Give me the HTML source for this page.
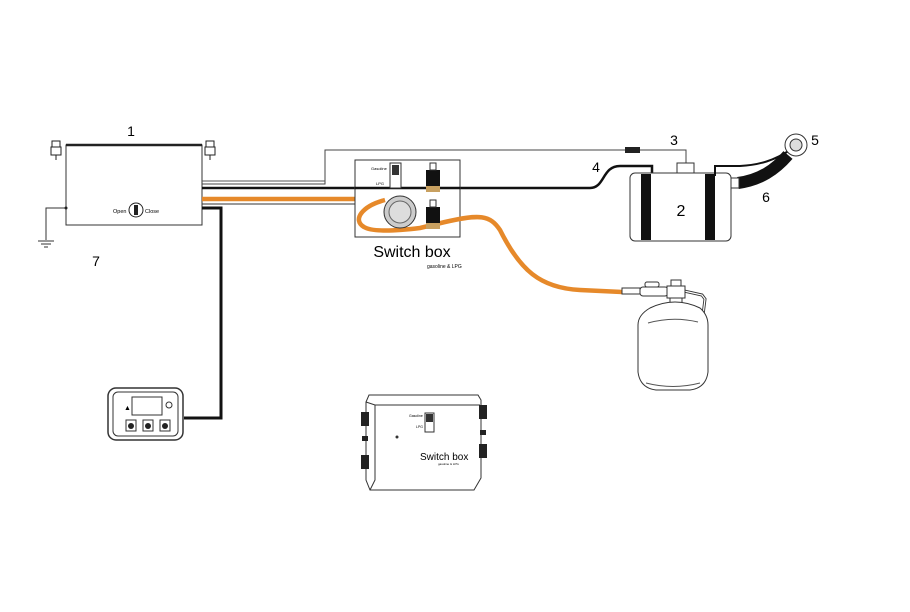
<!DOCTYPE html>
<html><head><meta charset="utf-8"><style>
html,body{margin:0;padding:0;background:#fff;}
svg{display:block;font-family:"Liberation Sans",sans-serif;}
</style></head><body>
<svg width="910" height="612" viewBox="0 0 910 612" xmlns="http://www.w3.org/2000/svg">
<rect width="910" height="612" fill="#fff"/>
<!-- heater -->
<text x="131" y="136" font-size="14" text-anchor="middle">1</text>
<rect x="66" y="145" width="136" height="80" fill="#fff" stroke="#333" stroke-width="1"/>
<line x1="66" y1="145" x2="202" y2="145" stroke="#222" stroke-width="2.5"/>
<g fill="#fff" stroke="#222" stroke-width="1">
<rect x="52" y="141" width="8" height="6"/><rect x="51" y="147" width="10" height="8"/><line x1="56" y1="155" x2="56" y2="160"/>
<rect x="206" y="141" width="8" height="6"/><rect x="205" y="147" width="10" height="8"/><line x1="210" y1="155" x2="210" y2="160"/>
</g>
<circle cx="136" cy="210" r="7" fill="#fff" stroke="#222"/>
<rect x="134" y="205" width="4" height="10" fill="#222"/>
<text x="113" y="213" font-size="5.5">Open</text><text x="145" y="213" font-size="5.5">Close</text>
<polyline points="66,208 46,208 46,240" fill="none" stroke="#333"/>
<circle cx="66" cy="208" r="1.5" fill="#222"/>
<line x1="38" y1="241" x2="54" y2="241" stroke="#333"/><line x1="41" y1="244" x2="51" y2="244" stroke="#333"/><line x1="44" y1="247" x2="48" y2="247" stroke="#333"/>
<text x="96" y="266" font-size="14" text-anchor="middle">7</text>
<!-- wires -->
<polyline points="202,184 325,184 325,150 625,150" fill="none" stroke="#444" stroke-width="1"/>
<line x1="202" y1="181" x2="325" y2="181" stroke="#555" stroke-width="1"/>
<rect x="625" y="147" width="15" height="6" fill="#222"/>
<polyline points="640,150 686,150 686,163" fill="none" stroke="#444"/>
<path d="M202 188 L590 188 C605 188 602 166 620 166 L652 166 L652 176" fill="none" stroke="#111" stroke-width="2.5"/>
<path d="M202 199 L385 199" stroke="#e6892a" stroke-width="4.5"/>
<line x1="202" y1="204" x2="355" y2="204" stroke="#333"/>
<polyline points="202,208 221,208 221,418 184,418" fill="none" stroke="#111" stroke-width="3"/>
<!-- switch box -->
<rect x="355" y="160" width="105" height="77" fill="#fff" stroke="#333"/>
<line x1="355" y1="188" x2="460" y2="188" stroke="#111" stroke-width="2.5"/>
<text x="371" y="170" font-size="4">Gasoline</text><text x="376" y="185" font-size="4">LPG</text>
<rect x="390" y="163" width="11" height="25" fill="#fff" stroke="#333"/>
<rect x="392" y="165" width="7" height="10" fill="#333"/>
<path d="M385 200 C362 206 352 220 364 227 C372 232 395 231 420 228 L445 222 C480 214 490 215 500 230 C520 270 540 288 580 290 L622 292" fill="none" stroke="#e6892a" stroke-width="4.5"/>
<circle cx="400" cy="212" r="16" fill="#ccc" stroke="#333"/>
<circle cx="400" cy="212" r="11" fill="#ddd" stroke="#666"/>
<rect x="426" y="170" width="14" height="16" fill="#111"/><rect x="426" y="186" width="14" height="6" fill="#c8a060"/><rect x="430" y="163" width="6" height="7" fill="#fff" stroke="#333"/>
<rect x="426" y="207" width="14" height="16" fill="#111"/><rect x="426" y="223" width="14" height="6" fill="#c8a060"/><rect x="430" y="200" width="6" height="7" fill="#fff" stroke="#333"/>
<text x="412" y="257" font-size="16" text-anchor="middle">Switch box</text>
<text x="427" y="268" font-size="5">gasoline &amp; LPG</text>
<!-- tank -->
<text x="674" y="145" font-size="14" text-anchor="middle">3</text>
<text x="596" y="172" font-size="14" text-anchor="middle">4</text>
<text x="815" y="145" font-size="14" text-anchor="middle">5</text>
<text x="766" y="202" font-size="14" text-anchor="middle">6</text>
<rect x="677" y="163" width="17" height="10" fill="#fff" stroke="#333"/>
<rect x="630" y="173" width="101" height="68" rx="5" fill="#fff" stroke="#333"/>
<rect x="641" y="174" width="10" height="66" fill="#111"/>
<rect x="705" y="174" width="10" height="66" fill="#111"/>
<text x="681" y="216" font-size="16" text-anchor="middle">2</text>
<path d="M715 176 L715 166 L740 166 C760 165 775 160 790 150" fill="none" stroke="#111" stroke-width="2"/>
<path d="M738 183 C760 180 775 170 788 155" fill="none" stroke="#111" stroke-width="12"/>
<rect x="731" y="178" width="8" height="10" fill="#fff" stroke="#333"/>
<circle cx="796" cy="145" r="11" fill="#fff" stroke="#333"/>
<circle cx="796" cy="145" r="6" fill="#ddd" stroke="#333"/>
<!-- cylinder -->
<path d="M684 291 L702 295 L705 299 L703 315" fill="none" stroke="#333" stroke-width="3"/>
<path d="M684 291 L702 295 L705 299 L703 315" fill="none" stroke="#fff" stroke-width="1.2"/>
<rect x="622" y="288" width="18" height="6" fill="#fff" stroke="#333"/>
<rect x="640" y="287" width="28" height="9" rx="3" fill="#fff" stroke="#333"/>
<rect x="645" y="282" width="14" height="5" rx="2" fill="#fff" stroke="#333"/>
<rect x="667" y="286" width="18" height="12" fill="#fff" stroke="#333"/>
<rect x="671" y="280" width="10" height="6" fill="#fff" stroke="#333"/>
<rect x="670" y="298" width="12" height="7" fill="#fff" stroke="#333"/>
<path d="M650 308 Q675 296 700 308 Q708 315 708 325 L708 372 Q706 388 690 390 L656 390 Q640 388 638 372 L638 325 Q638 315 650 308 Z" fill="#fff" stroke="#333"/>
<path d="M648 323 Q673 316 698 322" fill="none" stroke="#555"/>
<path d="M646 383 Q673 390 700 383" fill="none" stroke="#555"/>
<!-- controller -->
<rect x="108" y="388" width="75" height="52" rx="8" fill="#fff" stroke="#333" stroke-width="1.5"/>
<rect x="113" y="392" width="65" height="44" rx="5" fill="none" stroke="#333"/>
<rect x="132" y="397" width="30" height="18" fill="#fff" stroke="#333"/>
<text x="124" y="410" font-size="7">▲</text><circle cx="169" cy="405" r="3" fill="none" stroke="#333"/>
<rect x="126" y="420" width="10" height="11" fill="#fff" stroke="#333"/><rect x="143" y="420" width="10" height="11" fill="#fff" stroke="#333"/><rect x="160" y="420" width="10" height="11" fill="#fff" stroke="#333"/>
<circle cx="131" cy="426" r="3" fill="#222"/><circle cx="148" cy="426" r="3" fill="#222"/><circle cx="165" cy="426" r="3" fill="#222"/>
<!-- switch box 3D -->
<path d="M366 402 L369 395 L478 395 L481 400 L481 478 L474 490 L370 490 L366 480 Z" fill="#fff" stroke="#333"/>
<path d="M366 402 L375 405 L480 405 M375 405 L375 480 L370 490" fill="none" stroke="#333"/>
<g fill="#222"><rect x="361" y="412" width="8" height="14"/><rect x="362" y="436" width="6" height="5"/><rect x="361" y="455" width="8" height="14"/>
<rect x="479" y="405" width="8" height="14"/><rect x="480" y="430" width="6" height="5"/><rect x="479" y="444" width="8" height="14"/></g>
<rect x="425" y="413" width="9" height="19" fill="#fff" stroke="#333"/><rect x="426" y="414" width="7" height="8" fill="#333"/>
<text x="409" y="417" font-size="3.5">Gasoline</text><text x="416" y="428" font-size="3.5">LPG</text>
<circle cx="397" cy="437" r="1.5" fill="#333"/>
<text x="420" y="460" font-size="10">Switch box</text>
<text x="438" y="465" font-size="3">gasoline &amp; LPG</text>
</svg>
</body></html>
